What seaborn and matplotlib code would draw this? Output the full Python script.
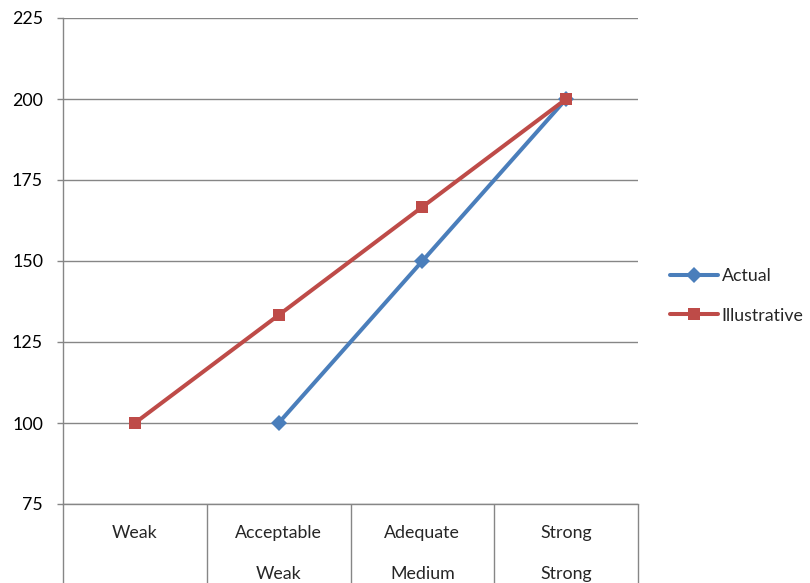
import numpy as np
import pandas as pd
import matplotlib
matplotlib.use("Agg")
import matplotlib.pyplot as plt
import seaborn as sns

# Category labels (two-level axis) and series values
level1 = ["Weak", "Acceptable", "Adequate", "Strong"]
level2 = ["", "Weak", "Medium", "Strong"]
actual = [np.nan, 100, 150, 200]
illustrative = [100, 133.3, 166.7, 200]
y_ticks = [75, 100, 125, 150, 175, 200, 225]

sns.set_theme(style="white")
plt.rcParams["font.family"] = ["Lato", "DejaVu Sans"]

df = pd.DataFrame({
    "pos": list(range(4)) * 2,
    "value": actual + illustrative,
    "series": ["Actual"] * 4 + ["Illustrative"] * 4,
})

fig = plt.figure(figsize=(8.10, 5.83), dpi=100)
ax = fig.add_axes([63 / 810, 1 - 504 / 583, 575 / 810, 486 / 583])

grid_c = "#868686"
fs = 12.8
palette = {"Actual": "#4A7EBB", "Illustrative": "#BE4B48"}
sns.lineplot(data=df, x="pos", y="value", hue="series", style="series",
             markers={"Actual": "D", "Illustrative": "s"}, dashes=False,
             palette=palette, linewidth=2.9, markersize=8,
             markeredgewidth=0, ax=ax, zorder=3)

ax.set_xlim(-0.5, 3.5)
ax.set_ylim(75, 225)
ax.set_yticks(y_ticks)
ax.set_yticklabels([str(v) for v in y_ticks], fontsize=fs, color="#000000")
ax.tick_params(axis="y", length=4.3, width=1, color=grid_c, pad=10, left=True)
ax.yaxis.grid(True, color=grid_c, linewidth=1)
ax.set_axisbelow(True)

# category dividers extending below the axis
ax.set_xticks([-0.5, 0.5, 1.5, 2.5, 3.5])
ax.set_xticklabels([])
ax.tick_params(axis="x", length=60, width=1, color=grid_c, bottom=True,
               direction="out")
for xi, (a, b) in enumerate(zip(level1, level2)):
    ax.text(xi, -0.06, a, transform=ax.get_xaxis_transform(),
            ha="center", va="center", fontsize=fs)
    ax.text(xi, -0.145, b, transform=ax.get_xaxis_transform(),
            ha="center", va="center", fontsize=fs)

ax.set_xlabel("")
ax.set_ylabel("")
for s in ["top", "right"]:
    ax.spines[s].set_visible(False)
for s in ["left", "bottom"]:
    ax.spines[s].set_color(grid_c)
    ax.spines[s].set_linewidth(1)

leg = ax.legend(loc="center left", bbox_to_anchor=(670 / 810, 1 - 296 / 583),
                bbox_transform=fig.transFigure, frameon=False, fontsize=fs,
                handlelength=2.7, handletextpad=0.2, labelspacing=1.3,
                borderaxespad=0, borderpad=0)

fig.savefig("out.png", dpi=100)
